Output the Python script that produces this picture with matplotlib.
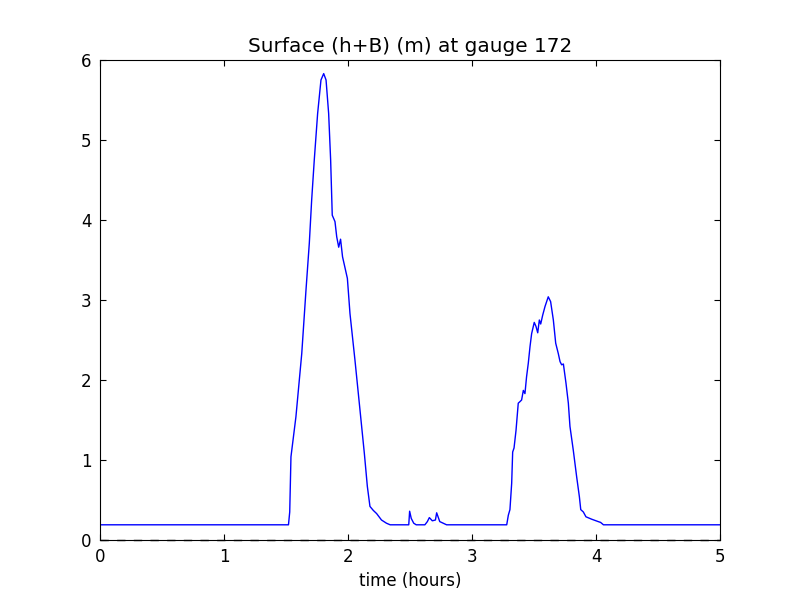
import matplotlib
matplotlib.use("Agg")
import matplotlib.pyplot as plt
import numpy as np

title = "Surface (h+B) (m) at gauge 172"
xlabel = "time (hours)"

time_hours = [0.0, 1.52, 1.53, 1.54, 1.58, 1.627, 1.661, 1.688, 1.707, 1.728, 1.755,
              1.782, 1.804, 1.823, 1.844, 1.86, 1.873, 1.895, 1.909, 1.925, 1.94,
              1.956, 1.995, 2.016, 2.056, 2.097, 2.132, 2.156, 2.177, 2.204, 2.231,
              2.27, 2.31, 2.34, 2.49, 2.497, 2.51, 2.53, 2.55, 2.62, 2.64, 2.656,
              2.68, 2.705, 2.715, 2.74, 2.795, 3.28, 3.293, 3.306, 3.32, 3.328,
              3.339, 3.355, 3.373, 3.387, 3.4, 3.414, 3.427, 3.44, 3.454, 3.468,
              3.481, 3.502, 3.516, 3.53, 3.543, 3.554, 3.57, 3.589, 3.615, 3.634,
              3.656, 3.675, 3.696, 3.71, 3.723, 3.737, 3.758, 3.777, 3.79, 3.817,
              3.844, 3.866, 3.877, 3.898, 3.919, 3.965, 4.018, 4.037, 4.06, 5.0]
surface_m = [0.19, 0.19, 0.35, 1.04, 1.54, 2.33, 3.12, 3.71, 4.25, 4.75, 5.33,
             5.75, 5.83, 5.75, 5.33, 4.75, 4.06, 3.98, 3.79, 3.66, 3.76,
             3.54, 3.27, 2.83, 2.25, 1.62, 1.08, 0.67, 0.42, 0.37, 0.33,
             0.25, 0.21, 0.19, 0.19, 0.36, 0.27, 0.21, 0.19, 0.19, 0.23, 0.28,
             0.24, 0.25, 0.34, 0.23, 0.19, 0.19, 0.31, 0.38, 0.71, 1.10,
             1.15, 1.37, 1.71, 1.73, 1.75, 1.87, 1.83, 2.04, 2.21, 2.42,
             2.58, 2.72, 2.67, 2.59, 2.75, 2.70, 2.81, 2.92, 3.04, 2.98,
             2.75, 2.46, 2.33, 2.23, 2.19, 2.20, 1.96, 1.71, 1.42, 1.12,
             0.79, 0.54, 0.38, 0.35, 0.29, 0.26, 0.23, 0.22, 0.19, 0.19]
reference_level = [0.0, 0.0]
reference_time = [0.0, 5.0]

fig = plt.figure(figsize=(8, 6), dpi=100)
ax = fig.add_axes([0.125, 0.1, 0.775, 0.8])
ax.plot(time_hours, surface_m, color=(0, 0, 1), linewidth=1.0)
ax.plot(reference_time, reference_level, color='k', linestyle=(0, (6, 6)),
        linewidth=1.0, clip_on=False, zorder=3)
ax.set_xlim(0, 5)
ax.set_ylim(0, 6)
ax.set_xticks([0, 1, 2, 3, 4, 5])
ax.set_yticks([0, 1, 2, 3, 4, 5, 6])
ax.tick_params(direction='in', top=True, right=True, labelsize=12, length=4, pad=6)
ax.set_title(title, fontsize=14.4)
ax.set_xlabel(xlabel, fontsize=12)
fig.savefig("out.png", dpi=100)
